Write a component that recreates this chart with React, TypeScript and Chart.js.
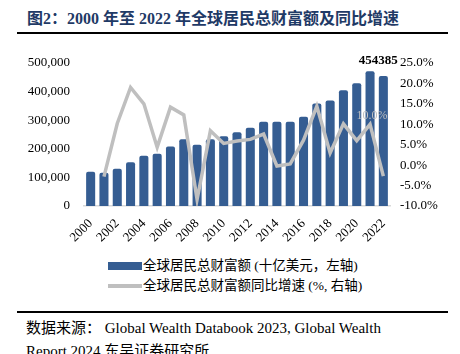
import React, { useEffect, useRef } from "react";
import { Chart, registerables } from "chart.js";

Chart.register(...registerables);

const years = ["2000","2001","2002","2003","2004","2005","2006","2007","2008","2009","2010","2011","2012","2013","2014","2015","2016","2017","2018","2019","2020","2021","2022"];
const wealth = [120000,116000,130000,153000,176000,183000,208000,233000,214000,233000,244000,258000,274000,295000,295000,295000,312000,358000,369000,405000,429000,471000,454385];
const growth = [null,-2.8,10.2,19.0,15.0,4.4,14.2,12.3,-8.4,8.4,5.3,5.9,6.3,7.6,-0.2,0.3,6.1,14.4,3.0,10.1,6.0,10.0,-2.7];
const leftTicks = [0,100000,200000,300000,400000,500000];
const rightTicks = [-10,-5,0,5,10,15,20,25];
const barLabel = "454385";
const lineLabel = "10.0%";

const BLUE = "#355D92";
const GREY = "#BFBFBF";
const SERIF = "'Liberation Serif', 'Times New Roman', serif";
const CJK = "'Liberation Serif', 'Noto Sans CJK SC', serif";

const labelPlugin = {
  id: "labels",
  afterDatasetsDraw(chart: any) {
    const ctx = chart.ctx;
    const barMeta = chart.getDatasetMeta(1);
    const lineMeta = chart.getDatasetMeta(0);
    ctx.save();
    const b = barMeta.data[22];
    ctx.font = `bold 13px ${SERIF}`;
    ctx.fillStyle = "#000";
    ctx.textAlign = "center";
    ctx.textBaseline = "bottom";
    ctx.fillText(barLabel, b.x - 5, b.y - 9);
    const p = lineMeta.data[21];
    ctx.font = `12px ${SERIF}`;
    ctx.fillStyle = GREY;
    ctx.fillText(lineLabel, p.x + 2, p.y - 2);
    ctx.restore();
  },
};

export default function App() {
  const ref = useRef<HTMLCanvasElement>(null);
  useEffect(() => {
    if (!ref.current) return;
    const chart = new Chart(ref.current, {
      type: "bar",
      data: {
        labels: years,
        datasets: [
          {
            type: "line",
            label: "全球居民总财富额同比增速 (%, 右轴)",
            data: growth as any,
            borderColor: GREY,
            backgroundColor: GREY,
            borderWidth: 3.5,
            pointRadius: 0,
            tension: 0,
            yAxisID: "y1",
            order: 0,
          },
          {
            type: "bar",
            label: "全球居民总财富额 (十亿美元，左轴)",
            data: wealth,
            backgroundColor: BLUE,
            borderRadius: { topLeft: 2, topRight: 2 },
            barPercentage: 0.68,
            categoryPercentage: 1,
            yAxisID: "y",
            order: 1,
          },
        ],
      },
      options: {
        animation: false,
        responsive: false,
        layout: { padding: { top: 63, left: 0, right: 0, bottom: 0 } },
        plugins: { legend: { display: false }, tooltip: { enabled: false } },
        scales: {
          x: {
            grid: { display: false, drawTicks: false },
            border: { display: true, color: "#D9D9D9", width: 1.5 },
            ticks: {
              autoSkip: false,
              minRotation: 45,
              maxRotation: 45,
              padding: 10,
              color: "#000",
              font: { family: SERIF, size: 13 },
              callback: (v: any, i: number) => (i % 2 === 0 ? years[i] : ""),
            },
            afterFit: (s: any) => { s.height = 44; },
          },
          y: {
            position: "left",
            min: 0,
            max: 500000,
            afterBuildTicks: (s: any) => { s.ticks = leftTicks.map((v) => ({ value: v })); },
            grid: { display: false, drawTicks: false },
            border: { display: false },
            ticks: {
              padding: 14,
              color: "#000",
              font: { family: SERIF, size: 13 },
              callback: (v: any) => Number(v).toLocaleString("en-US"),
            },
            afterFit: (s: any) => { s.width = 84; },
          },
          y1: {
            position: "right",
            min: -10,
            max: 25,
            afterBuildTicks: (s: any) => { s.ticks = rightTicks.map((v) => ({ value: v })); },
            grid: { display: false, drawTicks: false },
            border: { display: false },
            ticks: {
              padding: 10,
              color: "#000",
              font: { family: SERIF, size: 13 },
              callback: (v: any) => Number(v).toFixed(1) + "%",
            },
            afterFit: (s: any) => { s.width = 70; },
          },
        },
      },
      plugins: [labelPlugin],
    });
    return () => chart.destroy();
  }, []);

  return (
    <div style={{ position: "fixed", left: 0, top: 0, width: 460, height: 354, background: "#fff", overflow: "hidden" }}>
      <div style={{ position: "absolute", left: 27, top: 5, fontFamily: CJK, fontWeight: "bold", fontSize: 16, color: "#1F3A66", whiteSpace: "nowrap" }}>
        图2：2000 年至 2022 年全球居民总财富额及同比增速
      </div>
      <div style={{ position: "absolute", left: 17, top: 32, width: 431, height: 2, background: "#000" }} />
      <canvas ref={ref} width={460} height={250} style={{ position: "absolute", left: 0, top: 0, width: 460, height: 250 }} />
      <div style={{ position: "absolute", left: 108, top: 256, fontFamily: CJK, fontSize: 13.5, color: "#000", lineHeight: "20px" }}>
        <div style={{ display: "flex", alignItems: "center", whiteSpace: "nowrap" }}>
          <span style={{ display: "inline-block", width: 34, height: 8, background: BLUE, marginRight: 1 }} />
          全球居民总财富额 (十亿美元，左轴)
        </div>
        <div style={{ display: "flex", alignItems: "center", whiteSpace: "nowrap" }}>
          <span style={{ display: "inline-block", width: 34, height: 3.5, background: GREY, marginRight: 1 }} />
          全球居民总财富额同比增速 (%, 右轴)
        </div>
      </div>
      <div style={{ position: "absolute", left: 17, top: 311, width: 431, height: 2, background: "#000" }} />
      <div style={{ position: "absolute", left: 26, top: 317, fontFamily: CJK, fontSize: 15, color: "#000", lineHeight: "23px", width: 430 }}>
        数据来源： Global Wealth Databook 2023, Global Wealth<br />Report 2024 东吴证券研究所
      </div>
    </div>
  );
}
